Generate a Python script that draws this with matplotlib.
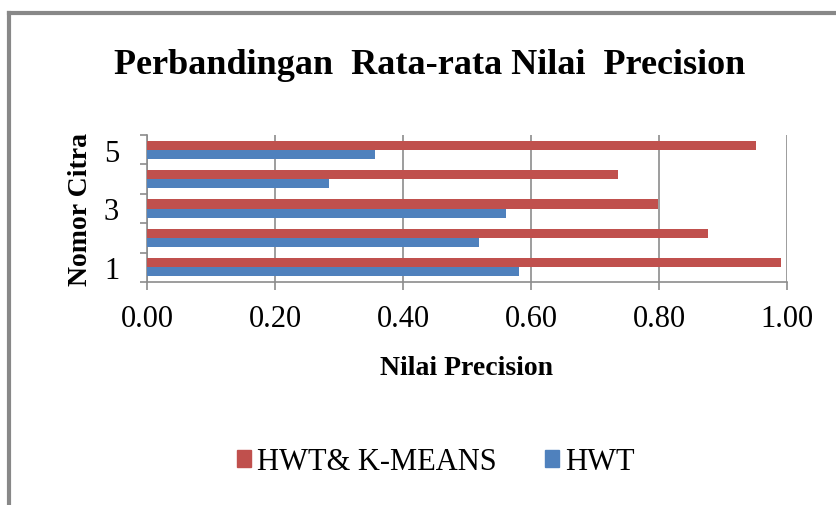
import matplotlib
matplotlib.use("Agg")
import matplotlib.pyplot as plt
import numpy as np
from matplotlib.patches import Patch
from matplotlib.lines import Line2D

categories = [1, 2, 3, 4, 5]
hwt_kmeans = [0.990, 0.876, 0.798, 0.736, 0.951]
hwt = [0.582, 0.518, 0.561, 0.285, 0.356]
xticks = [0.0, 0.2, 0.4, 0.6, 0.8, 1.0]
ytick_labels = ["1", "3", "5"]

RED = "#C0504D"
BLUE = "#4F81BD"
GRID = "#8C8C8C"
SERIF = "Liberation Serif"

fig = plt.figure(figsize=(8.36, 5.06), dpi=100)
ax = fig.add_axes([147/836, 1-283/506, 640/836, 147/506])

y = np.array(categories, dtype=float)
h = 0.31
ax.barh(y + h/2, hwt_kmeans, height=h, color=RED, label="HWT& K-MEANS", zorder=3)
ax.barh(y - h/2, hwt, height=h, color=BLUE, label="HWT", zorder=3)

ax.set_xlim(0, 1.0)
ax.set_ylim(0.5, 5.5)
ax.set_xticks(xticks)
ax.set_xticklabels([f"{v:.2f}" for v in xticks], fontfamily=SERIF, fontsize=22)
ax.set_yticks([1, 3, 5])
ax.set_yticklabels(ytick_labels, fontfamily=SERIF, fontsize=22)
ax.set_yticks(np.arange(0.5, 5.6, 1.0), minor=True)
ax.tick_params(axis="y", which="major", length=0, pad=20)
ax.tick_params(axis="y", which="minor", length=5, color=GRID, width=1.2, direction="out")
ax.tick_params(axis="x", which="major", length=6, color=GRID, width=1.2, direction="out", pad=10)

ax.grid(axis="x", color=GRID, linewidth=1.2, zorder=0)
for s in ["top", "right"]:
    ax.spines[s].set_visible(False)
for s in ["left", "bottom"]:
    ax.spines[s].set_color(GRID)
    ax.spines[s].set_linewidth(1.2)

ax.set_xlabel("Nilai Precision", fontfamily=SERIF, fontsize=20, fontweight="bold", labelpad=16)
ax.set_ylabel("Nomor Citra", fontfamily=SERIF, fontsize=20, fontweight="bold", labelpad=8)

fig.text(430/836, 1-66/506, "Perbandingan  Rata-rata Nilai  Precision", fontfamily=SERIF,
         fontsize=26, fontweight="bold", ha="center", va="center")

handles = [Patch(color=RED), Patch(color=BLUE)]
fig.legend(handles, ["HWT& K-MEANS", "HWT"], loc="center", bbox_to_anchor=(436/836, 1-463/506),
           ncol=2, frameon=False, prop={"family": SERIF, "size": 22},
           handlelength=0.45, handleheight=0.45, handletextpad=0.2, columnspacing=1.6)

# chart area border (left and top)
fig.add_artist(Line2D([9/836, 9/836], [0, 1-14/506], transform=fig.transFigure, color="#888888", linewidth=3))
fig.add_artist(Line2D([9/836, 1], [1-14/506, 1-14/506], transform=fig.transFigure, color="#888888", linewidth=3))

fig.savefig("out.png", dpi=100, facecolor="white")
